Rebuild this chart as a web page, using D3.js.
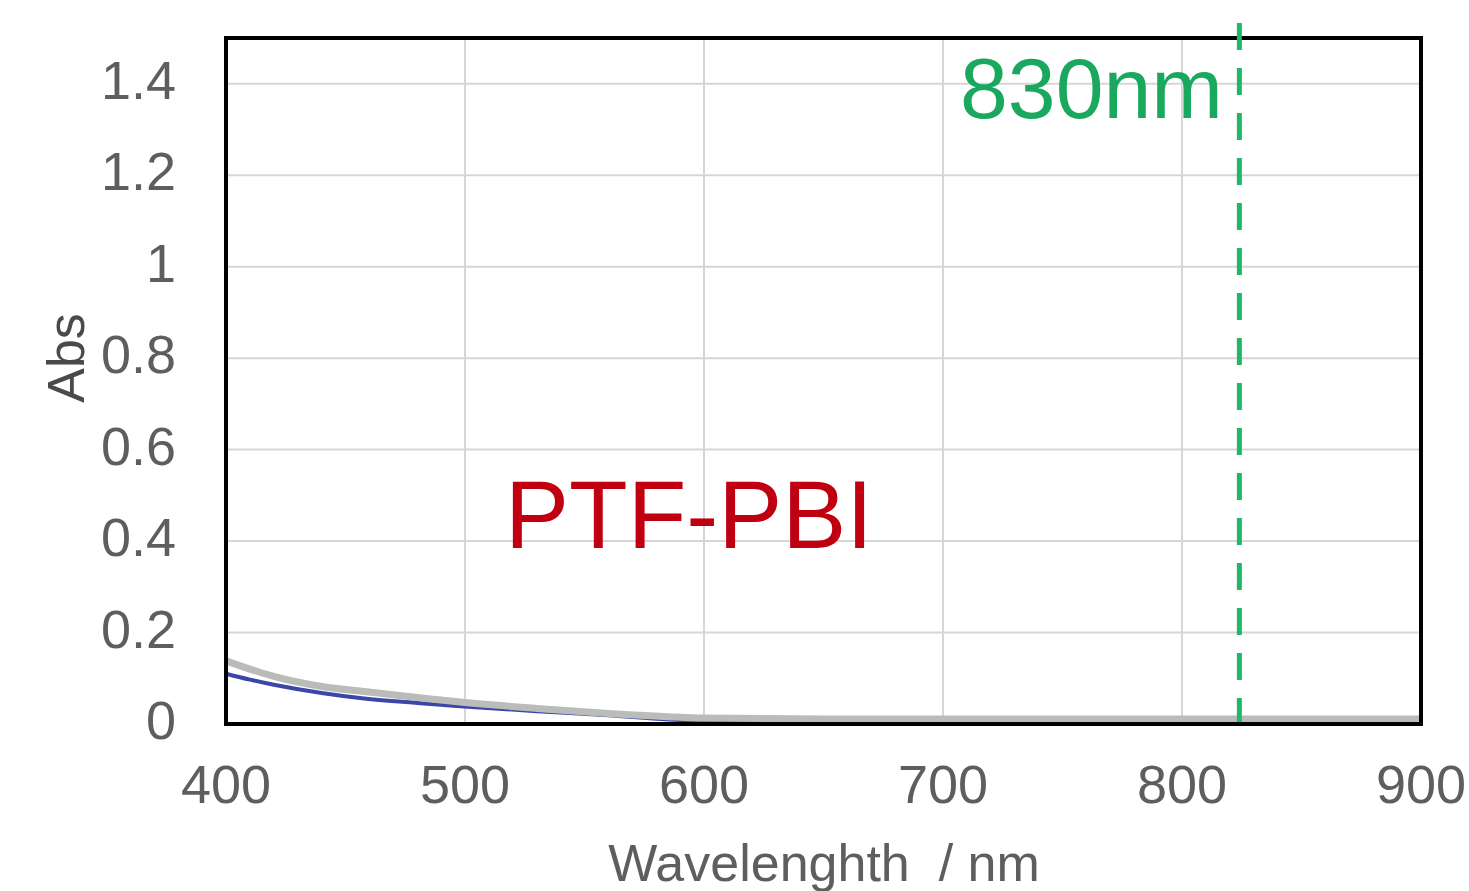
<!DOCTYPE html>
<html><head><meta charset="utf-8">
<script src="https://cdn.jsdelivr.net/npm/d3@7"></script>
<style>html,body{margin:0;padding:0;background:#fff;}svg{display:block;}</style>
</head><body>
<svg id="chart" width="1469" height="891"></svg>
<script>
// Data
const xTicks = [400, 500, 600, 700, 800, 900];
const yTicks = [0, 0.2, 0.4, 0.6, 0.8, 1, 1.2, 1.4];
const yTickLabels = ["0", "0.2", "0.4", "0.6", "0.8", "1", "1.2", "1.4"];
const wavelengths = [400, 410, 420, 440, 456, 480, 498, 530, 560, 585, 600, 650, 700, 750, 800, 850, 900];
const absGray =     [0.138, 0.12, 0.104, 0.082, 0.072, 0.058, 0.048, 0.034, 0.023, 0.016, 0.013, 0.011, 0.011, 0.011, 0.011, 0.011, 0.011];
const absBlue =     [0.110, 0.097, 0.086, 0.068, 0.057, 0.046, 0.039, 0.028, 0.019, 0.010, 0.007, 0.005, 0.004, 0.004, 0.004, 0.004, 0.004];
const markerWavelength = 824;
const markerLabel = "830nm";
const sampleLabel = "PTF-PBI";
const xTitle = "Wavelenghth  / nm";
const yTitle = "Abs";

const svg = d3.select("#chart");
const L = 226, R = 1421, T = 38, B = 724;
const x = d3.scaleLinear().domain([400, 900]).range([L, R]);
const y = d3.scaleLinear().domain([0, 1.5]).range([B, T]);
const font = "'Liberation Sans', Arial, sans-serif";

// gridlines
svg.append("g").selectAll("line.h").data(yTicks.filter(d => d > 0)).join("line")
  .attr("x1", L).attr("x2", R).attr("y1", d => y(d)).attr("y2", d => y(d))
  .attr("stroke", "#d6d6d6").attr("stroke-width", 2);
svg.append("g").selectAll("line.v").data(xTicks.filter(d => d > 400 && d < 900)).join("line")
  .attr("x1", d => x(d)).attr("x2", d => x(d)).attr("y1", T).attr("y2", B)
  .attr("stroke", "#d6d6d6").attr("stroke-width", 2);

// curves
const line = d3.line().x((d, i) => x(wavelengths[i])).curve(d3.curveMonotoneX);
svg.append("path").datum(absBlue)
  .attr("d", line.y(d => y(d))).attr("fill", "none")
  .attr("stroke", "#3a47a8").attr("stroke-width", 4);
svg.append("path").datum(absGray)
  .attr("d", line.y(d => y(d))).attr("fill", "none")
  .attr("stroke", "#b9bcb8").attr("stroke-width", 7);

// frame
svg.append("rect").attr("x", L).attr("y", T).attr("width", R - L).attr("height", B - T)
  .attr("fill", "none").attr("stroke", "#000").attr("stroke-width", 4);

// dashed marker
svg.append("line")
  .attr("x1", x(markerWavelength)).attr("x2", x(markerWavelength))
  .attr("y1", 23).attr("y2", B - 2)
  .attr("stroke", "#1fb86a").attr("stroke-width", 5)
  .attr("stroke-dasharray", "27,18");

// tick labels
svg.append("g").selectAll("text").data(xTicks).join("text")
  .attr("x", d => x(d)).attr("y", 803)
  .attr("text-anchor", "middle").attr("font-family", font).attr("font-size", 54)
  .attr("fill", "#5e5e5e").text(d => d);
svg.append("g").selectAll("text").data(yTicks).join("text")
  .attr("x", 176).attr("y", d => y(d) + 15)
  .attr("text-anchor", "end").attr("font-family", font).attr("font-size", 54)
  .attr("fill", "#5e5e5e").text((d, i) => yTickLabels[i]);

// axis titles
svg.append("text").attr("x", 824).attr("y", 881).attr("text-anchor", "middle")
  .attr("font-family", font).attr("font-size", 52).attr("fill", "#5e5e5e")
  .attr("xml:space", "preserve").style("white-space", "pre").text(xTitle);
svg.append("text").attr("transform", "translate(84,358) rotate(-90)")
  .attr("text-anchor", "middle").attr("font-family", font).attr("font-size", 52)
  .attr("fill", "#4a4a4a").text(yTitle);

// annotations
svg.append("text").attr("x", 505).attr("y", 548).attr("font-family", font)
  .attr("font-size", 96).attr("fill", "#c00010").text(sampleLabel);
svg.append("text").attr("x", 960).attr("y", 118).attr("font-family", font)
  .attr("font-size", 86).attr("fill", "#1aa85e").text(markerLabel);
</script>
</body></html>
